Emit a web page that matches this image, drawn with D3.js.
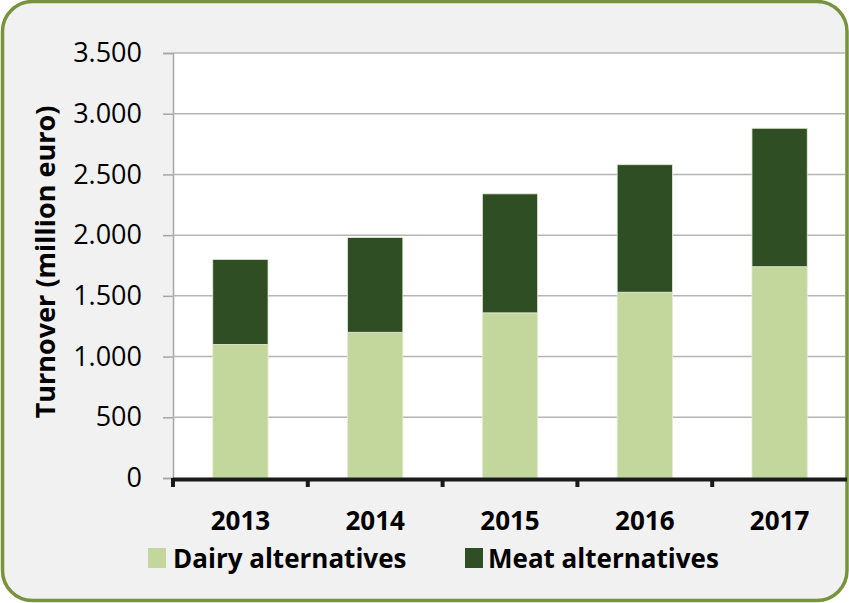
<!DOCTYPE html>
<html><head><meta charset="utf-8">
<script src="https://cdn.jsdelivr.net/npm/d3@7"></script>
<style>body{margin:0;background:#fff}svg{display:block}</style>
</head><body>
<svg id="c" width="849" height="603"></svg>
<script>
const years = ["2013","2014","2015","2016","2017"];
const dairy = [1100,1200,1360,1530,1740];
const meat = [700,780,980,1050,1140];
const yTicks = [0,500,1000,1500,2000,2500,3000,3500];
const seriesNames = ["Dairy alternatives","Meat alternatives"];
const colors = ["#c3d69b","#2f4e24"];

const svg = d3.select("#c");
svg.append("rect").attr("x",2.5).attr("y",1.5).attr("width",844.5).attr("height",599)
  .attr("rx",30).attr("fill","#f1f1f1").attr("stroke","#77933c").attr("stroke-width",3.5);

const L=173, R=847, T=53, B=478;
const x = d3.scaleBand().domain(years).range([L,R]).paddingInner(0.59).paddingOuter(0.295);
const y = d3.scaleLinear().domain([0,3500]).range([B,T]);

svg.append("rect").attr("x",L).attr("y",T).attr("width",R-L-2).attr("height",B-T).attr("fill","#fff");

const fmt = d => d3.format(",")(d).replace(/,/g,".");
const ya = svg.append("g").attr("transform",`translate(${L},0)`)
  .call(d3.axisLeft(y).tickValues(yTicks).tickSize(10).tickFormat(fmt).tickPadding(21));
ya.select(".domain").attr("stroke","#a6a6a6").attr("stroke-width",1.5);
ya.selectAll(".tick line").attr("stroke","#a6a6a6").attr("stroke-width",1.5);
ya.selectAll("text").attr("font-family","Open Sans").attr("font-size",27).attr("fill","#000");

svg.append("g").selectAll("line").data(yTicks.filter(d=>d>0)).join("line")
  .attr("x1",L).attr("x2",R-2).attr("y1",d=>y(d)).attr("y2",d=>y(d))
  .attr("stroke","#b5b5b5").attr("stroke-width",1.5);

const stack = d3.stack().keys([0,1]).value((d,k)=>k===0?d.dairy:d.meat);
const rows = years.map((yr,i)=>({year:yr,dairy:dairy[i],meat:meat[i]}));
const stacked = stack(rows);
svg.append("g").selectAll("g").data(stacked).join("g").attr("fill",(d,i)=>colors[i])
  .selectAll("rect").data(d=>d).join("rect")
  .attr("x",d=>x(d.data.year)).attr("width",x.bandwidth())
  .attr("y",d=>y(d[1])).attr("height",d=>y(d[0])-y(d[1]))
  .attr("stroke","#e4ecd6").attr("stroke-width",0.8);

// x axis
const step = x.step();
svg.append("line").attr("x1",L).attr("x2",R).attr("y1",B+1.5).attr("y2",B+1.5)
  .attr("stroke","#1a1a1a").attr("stroke-width",4);
svg.append("g").selectAll("line").data(years).join("line")
  .attr("x1",d=>x(d)-(step - x.bandwidth())/2).attr("x2",d=>x(d)-(step - x.bandwidth())/2)
  .attr("y1",B).attr("y2",B+9).attr("stroke","#1a1a1a").attr("stroke-width",4);

svg.append("g").selectAll("text").data(years).join("text")
  .attr("x",d=>x(d)+x.bandwidth()/2).attr("y",530)
  .attr("text-anchor","middle").attr("font-family","Open Sans").attr("font-weight","bold")
  .attr("font-size",26).attr("fill","#000").text(d=>d);

// y title
svg.append("text").attr("transform","translate(55,262) rotate(-90)")
  .attr("text-anchor","middle").attr("font-family","Open Sans").attr("font-weight","bold")
  .attr("font-size",27).attr("fill","#000").text("Turnover (million euro)");

// legend
const lg = [{x:148,tx:173},{x:465,tx:488}];
seriesNames.forEach((n,i)=>{
  svg.append("rect").attr("x",lg[i].x).attr("y",548).attr("width",18).attr("height",20).attr("fill",colors[i]);
  svg.append("text").attr("x",lg[i].tx).attr("y",568).attr("font-family","Open Sans").attr("font-weight","bold")
    .attr("font-size",26).attr("fill","#000").text(n);
});
</script>
</body></html>
